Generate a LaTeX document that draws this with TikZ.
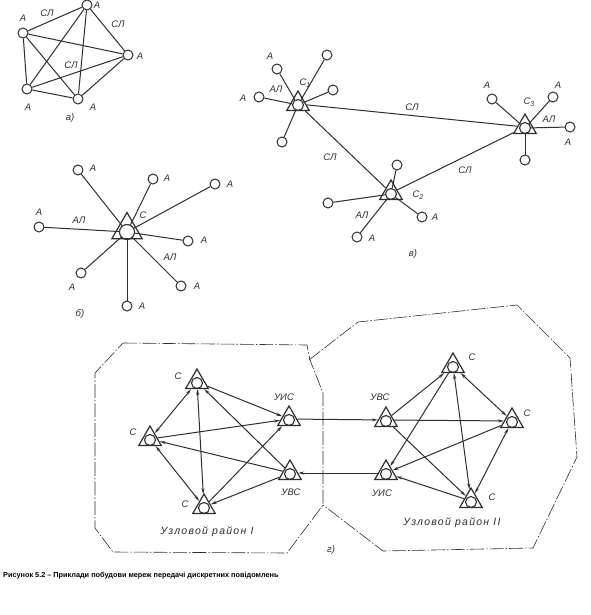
\documentclass[tikz,border=0pt]{standalone}
\usepackage{fontspec}
\setmainfont{Liberation Sans}
\newfontfamily\lf{Liberation Sans}
\newfontfamily\lfw{Liberation Sans}[LetterSpace=12]
\usetikzlibrary{shapes.geometric,arrows.meta}
\definecolor{ink}{rgb}{0.18,0.18,0.18}
\tikzset{
  leaf/.style={circle, draw=ink, line width=1pt, minimum size=10pt, inner sep=0pt},
  tribig/.style={regular polygon, regular polygon sides=3, draw=ink, line width=1.2pt, minimum size=35pt, inner sep=0pt},
  trismall/.style={regular polygon, regular polygon sides=3, draw=ink, line width=1.2pt, minimum size=26pt, inner sep=0pt},
  incbig/.style={circle, draw=ink, line width=1.1pt, minimum size=15pt, inner sep=0pt},
  incsmall/.style={circle, draw=ink, line width=1.1pt, minimum size=11pt, inner sep=0pt},
  lbl/.style={font=\lf\itshape\fontsize{9.5}{11}\selectfont, text=ink, inner sep=0pt},
  zonelbl/.style={font=\lfw\itshape\fontsize{10.5}{12}\selectfont, text=ink, inner sep=0pt},
  link/.style={draw=ink, line width=1pt},
  bi/.style={link, {Stealth[length=6pt,width=3pt]}-{Stealth[length=6pt,width=3pt]}},
  uni/.style={link, -{Stealth[length=6pt,width=3pt]}},
  zone/.style={draw=ink, line width=0.6pt, dash pattern=on 14pt off 2pt on 1.5pt off 2pt},
}
\newcommand{\sub}[1]{\raisebox{-0.35ex}{\fontsize{7}{8}\selectfont #1}}
\begin{document}
\begin{tikzpicture}[x=1pt,y=-1pt]
\useasboundingbox (0,0) rectangle (590,615);

% ---------- a) ----------
\node[leaf] (a1) at (87,5) {};
\node[leaf] (a2) at (23,33) {};
\node[leaf] (a3) at (128,55) {};
\node[leaf] (a4) at (27,89) {};
\node[leaf] (a5) at (78,99) {};
\foreach \p/\q in {a1/a2,a1/a3,a1/a4,a1/a5,a2/a3,a2/a4,a2/a5,a3/a4,a3/a5,a4/a5}
  \draw[link] (\p) -- (\q);
\node[lbl] (la1) at (47,13) {СЛ};
\node[lbl] (la2) at (118,24) {СЛ};
\node[lbl] (la3) at (71,65) {СЛ};
\node[lbl] (la4) at (97,5) {А};
\node[lbl] (la5) at (23,18) {А};
\node[lbl] (la6) at (140,56) {А};
\node[lbl] (la7) at (28,107) {А};
\node[lbl] (la8) at (93,107) {А};
\node[lbl] (la9) at (70,118) {а)};

% ---------- b) ----------
\node[tribig] (bt) at (127,230) {};
\node[incbig] (bc) at (127,232) {};
\node[leaf] (b1) at (78,170) {};
\node[leaf] (b2) at (153,179) {};
\node[leaf] (b3) at (215,184) {};
\node[leaf] (b4) at (39,227) {};
\node[leaf] (b5) at (188,241) {};
\node[leaf] (b6) at (81,273) {};
\node[leaf] (b7) at (181,286) {};
\node[leaf] (b8) at (127,306) {};
\foreach \p in {b1,b2,b3,b4,b5,b6,b7,b8}
  \draw[link] (\p) -- (bc);
\node[lbl] (lb1) at (93,168) {А};
\node[lbl] (lb2) at (167,178) {А};
\node[lbl] (lb3) at (230,184) {А};
\node[lbl] (lb4) at (39,212) {А};
\node[lbl] (lb5) at (204,240) {А};
\node[lbl] (lb6) at (72,287) {А};
\node[lbl] (lb7) at (197,286) {А};
\node[lbl] (lb8) at (142,306) {А};
\node[lbl] (lb9) at (79,220) {АЛ};
\node[lbl] (lb10) at (143,215) {С};
\node[lbl] (lb11) at (170,257) {АЛ};
\node[lbl] (lb12) at (80,314) {б)};

% ---------- v) ----------
\node[trismall] (c1) at (298,104) {};
\node[incsmall] (c1i) at (298,105) {};
\node[trismall] (c3) at (525,127) {};
\node[incsmall] (c3i) at (525,128) {};
\node[trismall] (c2) at (391,193) {};
\node[incsmall] (c2i) at (391,194) {};
\draw[link] (c1) -- (c3);
\draw[link] (c1) -- (c2);
\draw[link] (c2) -- (c3);
\node[leaf] (v11) at (277,69) {};
\node[leaf] (v12) at (327,55) {};
\node[leaf] (v13) at (259,97) {};
\node[leaf] (v14) at (333,90) {};
\node[leaf] (v15) at (282,142) {};
\foreach \p in {v11,v12,v13,v14,v15} \draw[link] (\p) -- (c1i);
\node[leaf] (v31) at (492,99) {};
\node[leaf] (v32) at (553,97) {};
\node[leaf] (v33) at (570,127) {};
\node[leaf] (v34) at (525,160) {};
\foreach \p in {v31,v32,v33,v34} \draw[link] (\p) -- (c3i);
\node[leaf] (v21) at (397,165) {};
\node[leaf] (v22) at (328,203) {};
\node[leaf] (v23) at (422,217) {};
\node[leaf] (v24) at (357,237) {};
\foreach \p in {v21,v22,v23,v24} \draw[link] (\p) -- (c2i);
\node[lbl] (lv1) at (305,83) {С\sub{1}};
\node[lbl] (lv2) at (270,56) {А};
\node[lbl] (lv3) at (243,98) {А};
\node[lbl] (lv4) at (276,89) {АЛ};
\node[lbl] (lv5) at (529,102) {С\sub{3}};
\node[lbl] (lv6) at (487,85) {А};
\node[lbl] (lv7) at (558,85) {А};
\node[lbl] (lv8) at (568,142) {А};
\node[lbl] (lv9) at (549,119) {АЛ};
\node[lbl] (lv10) at (418,195) {С\sub{2}};
\node[lbl] (lv11) at (435,217) {А};
\node[lbl] (lv12) at (372,238) {А};
\node[lbl] (lv13) at (362,215) {АЛ};
\node[lbl] (lv14) at (412,107) {СЛ};
\node[lbl] (lv15) at (330,157) {СЛ};
\node[lbl] (lv16) at (465,170) {СЛ};
\node[lbl] (lv17) at (413,254) {в)};

% ---------- g) ----------
\draw[zone] (123,343) -- (307,345) -- (310,360) -- (323,393) -- (323,505) -- (287,553) -- (113,552) -- (95,528) -- (95,373) -- cycle;
\draw[zone] (309,360) -- (358,322) -- (517,305) -- (570,358) -- (577,457) -- (533,548) -- (383,551) -- (323,505);

\node[trismall] (g1) at (197,382) {};
\node[incsmall] (g1i) at (197,383) {};
\node[trismall] (g2) at (150,439) {};
\node[incsmall] (g2i) at (150,440) {};
\node[trismall] (g3) at (204,507) {};
\node[incsmall] (g3i) at (204,508) {};
\node[trismall] (g4) at (289,419) {};
\node[incsmall] (g4i) at (289,420) {};
\node[trismall] (g5) at (290,473) {};
\node[incsmall] (g5i) at (290,474) {};

\node[trismall] (h1) at (453,366) {};
\node[incsmall] (h1i) at (453,367) {};
\node[trismall] (h2) at (512,421) {};
\node[incsmall] (h2i) at (512,422) {};
\node[trismall] (h3) at (471,501) {};
\node[incsmall] (h3i) at (471,502) {};
\node[trismall] (h4) at (386,420) {};
\node[incsmall] (h4i) at (386,421) {};
\node[trismall] (h5) at (386,473) {};
\node[incsmall] (h5i) at (386,474) {};

% left cluster
\draw[bi] (g1) -- (g2);
\draw[bi] (g1) -- (g3);
\draw[bi] (g2) -- (g3);
\draw[uni] (g1) -- (g4);
\draw[uni] (g2) -- (g4);
\draw[uni] (g3) -- (g4);
\draw[uni] (g5) -- (g1);
\draw[uni] (g5) -- (g2);
\draw[uni] (g5) -- (g3);
% between
\draw[uni] (g4) -- (h4);
\draw[uni] (h5) -- (g5);
% right cluster
\draw[bi] (h1) -- (h2);
\draw[bi] (h1) -- (h3);
\draw[bi] (h2) -- (h3);
\draw[uni] (h4) -- (h1);
\draw[uni] (h4) -- (h2);
\draw[uni] (h4) -- (h3);
\draw[uni] (h1) -- (h5);
\draw[uni] (h2) -- (h5);
\draw[uni] (h3) -- (h5);

\node[lbl] (lg1) at (178,376) {С};
\node[lbl] (lg2) at (133,432) {С};
\node[lbl] (lg3) at (185,504) {С};
\node[lbl] (lg4) at (284,397) {УИС};
\node[lbl] (lg5) at (291,492) {УВС};
\node[lbl] (lg6) at (472,357) {С};
\node[lbl] (lg7) at (527,413) {С};
\node[lbl] (lg8) at (492,497) {С};
\node[lbl] (lg9) at (380,397) {УВС};
\node[lbl] (lg10) at (382,493) {УИС};
\node[zonelbl] (lg11) at (207,532) {Узловой район I};
\node[zonelbl] (lg12) at (452,523) {Узловой район II};
\node[lbl] (lg13) at (331,550) {г)};

% caption
\node[anchor=west, inner sep=0pt, text=black, font=\lf\bfseries\fontsize{7.3}{8}\selectfont] (cap) at (3,576) {Рисунок 5.2 – Приклади побудови мереж передачі дискретних повідомлень};
\end{tikzpicture}
\end{document}
